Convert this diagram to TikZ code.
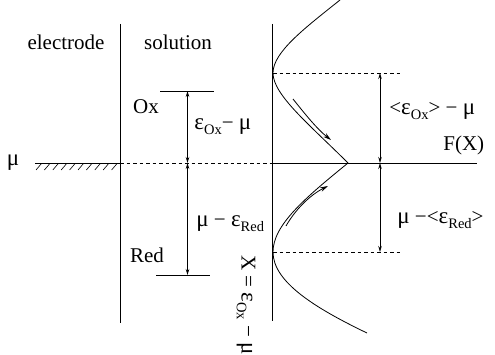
\documentclass[tikz,border=0pt]{standalone}
\usepackage{fontspec}
\setmainfont{Liberation Serif}
\usetikzlibrary{arrows.meta}
\newcommand{\sbx}[1]{\raisebox{-0.5ex}{\fontsize{14.5}{15}\selectfont #1}}
\newcommand{\gmu}{{\fontsize{23}{25}\selectfont μ}}
\newcommand{\geps}{{\fontsize{23}{25}\selectfont ε}}
\begin{document}
\begin{tikzpicture}[x=1pt,y=-1pt,
  font=\fontsize{21}{25}\selectfont,
  line width=0.8pt,
  lbl/.style={inner sep=0pt},
  dimarr/.style={{Stealth[length=6pt,width=3.5pt]}-{Stealth[length=6pt,width=3.5pt]}},
  curvarr/.style={-{Stealth[length=8pt,width=4.5pt]}},
  dsh/.style={dash pattern=on 3.5pt off 3pt},
  ]
\useasboundingbox (0,0) rectangle (495,355);
% coordinates
\coordinate (iftop) at (120,24);
\coordinate (ifbot) at (120,323);
\coordinate (axtop) at (272,24);
\coordinate (axbot) at (272,321);
\coordinate (hl) at (35,163);
\coordinate (mu0) at (120,163);
\coordinate (axmid) at (272,163);
\coordinate (axend) at (477,163);
\coordinate (oxl) at (160,91);
\coordinate (oxr) at (214,91);
\coordinate (redl) at (156,275);
\coordinate (redr) at (210,275);
\coordinate (aox) at (187.5,91);
\coordinate (amu) at (187.5,163);
\coordinate (ared) at (187.5,275);
\coordinate (vtop) at (273,73);
\coordinate (vbot) at (273,252);
\coordinate (dtopend) at (403,73);
\coordinate (dbotend) at (403,252);
\coordinate (rtop) at (380,73);
\coordinate (rmid) at (380,163);
\coordinate (rbot) at (380,252);
\coordinate (cross) at (348,163);
\coordinate (c1) at (340,0);
\coordinate (c2) at (367,333);
\coordinate (ua1) at (293,99);
\coordinate (ua2) at (331,140);
\coordinate (la1) at (286,226);
\coordinate (la2) at (328,186);

% main lines
\draw (iftop) -- (ifbot);
\draw (axtop) -- (axbot);
\draw (hl) -- (mu0);
\foreach \k in {0,...,9} {
  \draw[line width=0.6pt] ({36+8.4*\k},170) -- ({41.5+8.4*\k},163.5);
}
\draw[dsh] (mu0) -- (axmid);
\draw (axmid) -- (axend);
\draw (oxl) -- (oxr);
\draw (redl) -- (redr);
\draw[dimarr] (aox) -- (amu);
\draw[dimarr] (amu) -- (ared);
\draw[dsh] (vtop) -- (dtopend);
\draw[dsh] (vbot) -- (dbotend);
\draw[dimarr] (rtop) -- (rmid);
\draw[dimarr] (rmid) -- (rbot);

% curves
\draw (c1) .. controls (305,28) and (273,52) .. (vtop)
      .. controls (273,95) and (310,125) .. (cross);
\draw (cross) .. controls (305,198) and (273,225) .. (vbot)
      .. controls (273,282) and (315,308) .. (c2);
\draw[curvarr] (ua1) .. controls (305,114) and (317,129) .. (ua2);
\draw[curvarr] (la1) .. controls (295,210) and (310,195) .. (la2);

% labels
\node[lbl] (electrode) at (66,42) {electrode};
\node[lbl] (solution) at (178,42) {solution};
\node[lbl] (mu) at (13,163) {\gmu};
\node[lbl] (ox) at (146,107) {Ox};
\node[lbl] (red) at (147,255) {Red};
\node[lbl, anchor=west] (eoxmu) at (194,127) {\geps\sbx{Ox}− \gmu};
\node[lbl, anchor=west] (muered) at (196,224) {\gmu{} − \geps\sbx{Red}};
\node[lbl, anchor=west] (aveox) at (389,111) {<\geps\sbx{Ox}> − \gmu};
\node[lbl, anchor=west] (fx) at (443,145) {F(X)};
\node[lbl, anchor=west] (avered) at (397,220) {\gmu{} −<\geps\sbx{Red}>};
\node[lbl, rotate=-90] (xlab) at (246,305) {X = \geps\sbx{Ox} − \gmu};
\end{tikzpicture}
\end{document}
